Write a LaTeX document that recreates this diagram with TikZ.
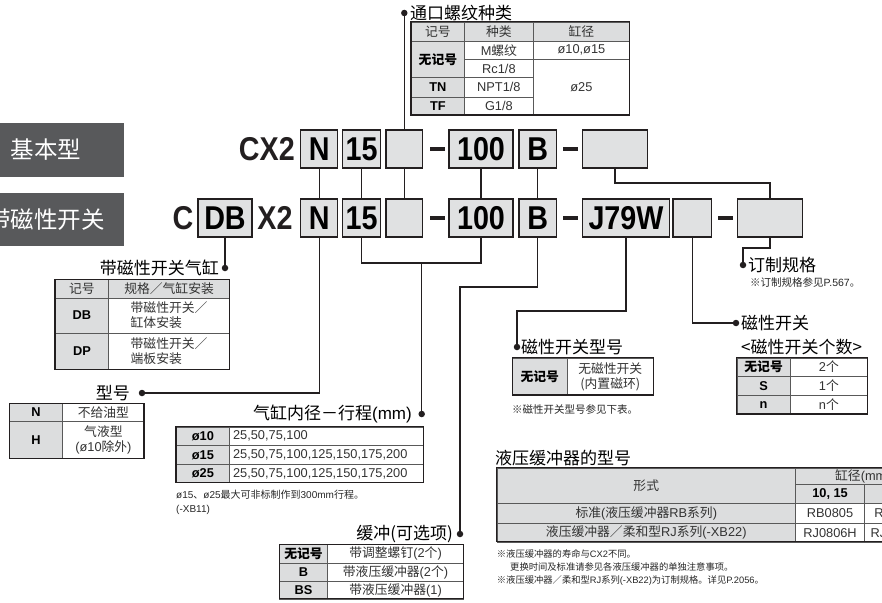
\documentclass[tikz,border=0pt]{standalone}
\usepackage{fontspec}
\setmainfont{Noto Sans CJK SC}
\newfontfamily\lat{Liberation Sans}
\newfontfamily\codefont[FakeStretch=0.87]{Liberation Sans}
\newcommand{\tabfont}{\fontsize{12.8}{15}\selectfont}

\definecolor{linec}{HTML}{231F20}
\definecolor{boxgray}{HTML}{E0E1E2}
\definecolor{cellgray}{HTML}{DCDDDE}
\definecolor{darkg}{HTML}{58595B}

\tikzset{
  conn/.style={draw=linec, line width=1.2pt},
  ldot/.style={circle, fill=linec, inner sep=0pt, minimum size=6.5pt},
  codebox/.style={draw=linec, line width=1.1pt, fill=boxgray, inner sep=0pt,
    minimum height=38pt, font={\codefont\bfseries\fontsize{33}{36}\selectfont}},
  codetext/.style={inner sep=0pt, text=linec, font={\codefont\bfseries\fontsize{33}{36}\selectfont}},
  dashbar/.style={fill=linec, inner sep=0pt, minimum width=15pt, minimum height=3.4pt},
  darkbox/.style={fill=darkg, text=white, inner sep=0pt, minimum width=156pt,
    minimum height=53.4pt, font=\fontsize{23.5}{26}\selectfont},
  lbl/.style={inner sep=0pt, font=\fontsize{17}{19}\selectfont},
  note/.style={inner sep=0pt, anchor=west, text=black!85, font=\fontsize{10}{12}\selectfont},
  hcell/.style={draw=black!65, line width=0.5pt, fill=cellgray, inner sep=0pt,
    anchor=north west, text=black!80, font=\tabfont},
  kcell/.style={hcell, text=black, font=\tabfont\bfseries},
  wcell/.style={draw=black!65, line width=0.5pt, fill=white, inner sep=0pt,
    anchor=north west, text=black!80, font=\tabfont, align=center},
  tabframe/.style={draw=linec, line width=1.1pt},
}

\begin{document}
\begin{tikzpicture}[x=1pt,y=-1pt]
    \useasboundingbox (0,0) rectangle (882,602);
    \clip (0,0) rectangle (882,602);

    % series boxes on the left
    \node[darkbox] (basic) at (46,150) {基本型};
    \node[darkbox] (withsw) at (46,219.2) {带磁性开关};

    % row 1: CX2
    \node[codetext, anchor=east] (cx2) at (295,149) {CX2};
    \node[codebox, minimum width=37pt] (n1) at (319.2,149) {N};
    \node[codebox, minimum width=38pt] (f1) at (361.7,149) {15};
    \node[codebox, minimum width=36.7pt] (e1) at (404.3,149) {};
    \node[dashbar] (d1) at (437.5,149) {};
    \node[codebox, minimum width=64pt] (h1) at (481,149) {100};
    \node[codebox, minimum width=37.7pt] (b1) at (537.8,149) {B};
    \node[dashbar] (d2) at (570,149) {};
    \node[codebox, minimum width=64.6pt] (x1) at (615,149) {};

    % row 2: CDBX2
    \node[codetext] (c2) at (183,218) {C};
    \node[codebox, minimum width=54pt] (db) at (225,218) {DB};
    \node[codetext] (x2t) at (275,218) {X2};
    \node[codebox, minimum width=37pt] (n2) at (319.2,218) {N};
    \node[codebox, minimum width=38pt] (f2) at (361.7,218) {15};
    \node[codebox, minimum width=36.7pt] (e2) at (404.3,218) {};
    \node[dashbar] (d3) at (437.5,218) {};
    \node[codebox, minimum width=64pt] (h2) at (481,218) {100};
    \node[codebox, minimum width=37.7pt] (b2) at (537.8,218) {B};
    \node[dashbar] (d4) at (570,218) {};
    \node[codebox, minimum width=86.6pt] (j79) at (626,218) {J79W};
    \node[codebox, minimum width=38.7pt] (sw) at (692.3,218) {};
    \node[dashbar] (d5) at (725,218) {};
    \node[codebox, minimum width=64.3pt] (x2b) at (770,218) {};

    % dots and labels
    \node[ldot] (dport) at (404.3,13) {};
    \node[lbl, anchor=west] (lport) at (410,13) {通口螺纹种类};
    \node[ldot] (ddb) at (225,268) {};
    \node[lbl, anchor=east] (ldb) at (219,268) {带磁性开关气缸};
    \node[ldot] (dtype) at (142,393) {};
    \node[lbl, anchor=east] (ltype) at (130,393) {型号};
    \node[ldot] (dbore) at (421.7,414) {};
    \node[lbl, anchor=east] (lbore) at (412,414) {气缸内径－行程{\lat(mm)}};
    \node[ldot] (dcush) at (460,534) {};
    \node[lbl, anchor=east] (lcush) at (453,534) {缓冲(可选项)};
    \node[ldot] (dswt) at (517,347) {};
    \node[lbl, anchor=west] (lswt) at (521,347) {磁性开关型号};
    \node[ldot] (dnum) at (736,323) {};
    \node[lbl, anchor=west] (lnum) at (741,323) {磁性开关};
    \node[lbl, anchor=west] (lnum2) at (741,347) {<磁性开关个数>};
    \node[ldot] (dopt) at (743,265) {};
    \node[lbl, anchor=west] (lopt) at (748,265) {订制规格};
    \node[note, font=\fontsize{10.5}{12}\selectfont] (nopt) at (750,282) {※订制规格参见{\lat P.567}。};
    \node[lbl, anchor=west] (lsa) at (495,458) {液压缓冲器的型号};

    % connectors
    \coordinate (k1) at (615,183);
    \coordinate (j1) at (421.7,263);
    \coordinate (kb) at (460,287);
    \coordinate (kj) at (517,311);
    \coordinate (kx) at (743,248);
    \draw[conn] (e1.north) -- (dport);
    \draw[conn] (n1) -- (n2);
    \draw[conn] (f1) -- (f2);
    \draw[conn] (e1) -- (e2);
    \draw[conn] (h1) -- (h2);
    \draw[conn] (b1) -- (b2);
    \draw[conn] (x1.south) |- (k1) -| (x2b.north);
    \draw[conn] (db.south) -- (ddb);
    \draw[conn] (n2.south) |- (dtype);
    \draw[conn] (f2.south) |- (j1) -| (h2.south);
    \draw[conn] (j1) -- (dbore);
    \draw[conn] (b2.south) |- (kb) -- (dcush);
    \draw[conn] (j79.south) |- (kj) -- (dswt);
    \draw[conn] (sw.south) |- (dnum);
    \draw[conn] (x2b.south) |- (kx) -- (dopt);

    % port thread table
    \node[hcell, minimum width=53.3pt, minimum height=19pt] (pt-a) at (411,21.7) {记号};
    \node[hcell, minimum width=68.7pt, minimum height=19pt] (pt-b) at (464.3,21.7) {种类};
    \node[hcell, minimum width=96.3pt, minimum height=19pt] (pt-c) at (533,21.7) {缸径};
    \node[kcell, minimum width=53.3pt, minimum height=36.6pt] (pt-k1) at (411,40.7) {无记号};
    \node[kcell, minimum width=53.3pt, minimum height=19.4pt] (pt-k2) at (411,77.3) {\lat TN};
    \node[kcell, minimum width=53.3pt, minimum height=18.3pt] (pt-k3) at (411,96.7) {\lat TF};
    \node[wcell, minimum width=68.7pt, minimum height=18.6pt] (pt-t1) at (464.3,40.7) {{\lat M}螺纹};
    \node[wcell, minimum width=68.7pt, minimum height=18pt] (pt-t2) at (464.3,59.3) {\lat Rc1/8};
    \node[wcell, minimum width=68.7pt, minimum height=19.4pt] (pt-t3) at (464.3,77.3) {\lat NPT1/8};
    \node[wcell, minimum width=68.7pt, minimum height=18.3pt] (pt-t4) at (464.3,96.7) {\lat G1/8};
    \node[wcell, minimum width=96.3pt, minimum height=18.6pt] (pt-d1) at (533,40.7) {\lat ø10,ø15};
    \node[wcell, minimum width=96.3pt, minimum height=55.7pt] (pt-d2) at (533,59.3) {\lat ø25};
    \draw[tabframe] (411,21.7) rectangle (629.3,115);

    % cylinder with switch table
    \node[hcell, minimum width=53.3pt, minimum height=18.4pt] (mc-a) at (55,279.3) {记号};
    \node[hcell, minimum width=121pt, minimum height=18.4pt] (mc-b) at (108.3,279.3) {规格／气缸安装};
    \node[kcell, minimum width=53.3pt, minimum height=35pt] (mc-k1) at (55,297.7) {\lat DB};
    \node[wcell, minimum width=121pt, minimum height=35pt, align=left] (mc-t1) at (108.3,297.7) {带磁性开关／\\缸体安装};
    \node[kcell, minimum width=53.3pt, minimum height=36.6pt] (mc-k2) at (55,332.7) {\lat DP};
    \node[wcell, minimum width=121pt, minimum height=36.6pt, align=left] (mc-t2) at (108.3,332.7) {带磁性开关／\\端板安装};
    \draw[tabframe] (55,279.3) rectangle (229.3,369.3);

    % type table
    \node[kcell, minimum width=53pt, minimum height=17.7pt] (ty-k1) at (9.3,403.3) {\lat N};
    \node[wcell, minimum width=81.7pt, minimum height=17.7pt] (ty-t1) at (62.3,403.3) {不给油型};
    \node[kcell, minimum width=53pt, minimum height=37.3pt] (ty-k2) at (9.3,421) {\lat H};
    \node[wcell, minimum width=81.7pt, minimum height=37.3pt] (ty-t2) at (62.3,421) {气液型\\{\lat(ø10}除外{\lat)}};
    \draw[tabframe] (9.3,403.3) rectangle (144,458.3);

    % bore and stroke table
    \node[kcell, minimum width=53.3pt, minimum height=18.6pt] (bs-k1) at (176,426.7) {\lat ø10};
    \node[kcell, minimum width=53.3pt, minimum height=19pt] (bs-k2) at (176,445.3) {\lat ø15};
    \node[kcell, minimum width=53.3pt, minimum height=18pt] (bs-k3) at (176,464.3) {\lat ø25};
    \node[wcell, text width=187pt, inner xsep=3.5pt, minimum height=18.6pt, align=left] (bs-t1) at (229.3,426.7) {\lat 25,50,75,100};
    \node[wcell, text width=187pt, inner xsep=3.5pt, minimum height=19pt, align=left] (bs-t2) at (229.3,445.3) {\lat 25,50,75,100,125,150,175,200};
    \node[wcell, text width=187pt, inner xsep=3.5pt, minimum height=18pt, align=left] (bs-t3) at (229.3,464.3) {\lat 25,50,75,100,125,150,175,200};
    \draw[tabframe] (176,426.7) rectangle (423.3,482.3);
    \node[note] (bs-n1) at (176,495) {{\lat ø15}、{\lat ø25}最大可非标制作到{\lat 300mm}行程。};
    \node[note] (bs-n2) at (176,510) {\lat (-XB11)};

    % cushion table
    \node[kcell, minimum width=48pt, minimum height=18.4pt] (cu-k1) at (279.3,544.3) {无记号};
    \node[kcell, minimum width=48pt, minimum height=18pt] (cu-k2) at (279.3,562.7) {\lat B};
    \node[kcell, minimum width=48pt, minimum height=18pt] (cu-k3) at (279.3,580.7) {\lat BS};
    \node[wcell, minimum width=136pt, minimum height=18.4pt] (cu-t1) at (327.3,544.3) {带调整螺钉{\lat(2}个{\lat)}};
    \node[wcell, minimum width=136pt, minimum height=18pt] (cu-t2) at (327.3,562.7) {带液压缓冲器{\lat(2}个{\lat)}};
    \node[wcell, minimum width=136pt, minimum height=18pt] (cu-t3) at (327.3,580.7) {带液压缓冲器{\lat(1)}};
    \draw[tabframe] (279.3,544.3) rectangle (463.3,598.7);

    % switch type table
    \node[kcell, minimum width=54.4pt, minimum height=37.3pt] (sw-k1) at (512.3,357.7) {无记号};
    \node[wcell, minimum width=86.6pt, minimum height=37.3pt] (sw-t1) at (566.7,357.7) {无磁性开关\\(内置磁环)};
    \draw[tabframe] (512.3,357.7) rectangle (653.3,395);
    \node[note, font=\fontsize{10.5}{12}\selectfont] (sw-n1) at (512,409.3) {※磁性开关型号参见下表。};

    % number of switches table
    \node[kcell, minimum width=53.3pt, minimum height=18pt] (sc-k1) at (736.7,357.7) {无记号};
    \node[kcell, minimum width=53.3pt, minimum height=19.3pt] (sc-k2) at (736.7,375.7) {\lat S};
    \node[kcell, minimum width=53.3pt, minimum height=19pt] (sc-k3) at (736.7,395) {\lat n};
    \node[wcell, minimum width=77.3pt, minimum height=18pt] (sc-t1) at (790,357.7) {{\lat 2}个};
    \node[wcell, minimum width=77.3pt, minimum height=19.3pt] (sc-t2) at (790,375.7) {{\lat 1}个};
    \node[wcell, minimum width=77.3pt, minimum height=19pt] (sc-t3) at (790,395) {{\lat n}个};
    \draw[tabframe] (736.7,357.7) rectangle (867.3,414);

    % shock absorber table
    \node[hcell, minimum width=298.6pt, minimum height=35pt] (sa-a) at (496.7,467.7) {形式};
    \node[hcell, minimum width=134.7pt, minimum height=16.6pt] (sa-b) at (795.3,467.7) {缸径{\lat(mm)}};
    \node[kcell, minimum width=69pt, minimum height=18.4pt] (sa-c1) at (795.3,484.3) {\lat 10, 15};
    \node[kcell, minimum width=65.7pt, minimum height=18.4pt] (sa-c2) at (864.3,484.3) {\lat 25};
    \node[hcell, minimum width=298.6pt, minimum height=20.6pt] (sa-r1) at (496.7,502.7) {标准{\lat(}液压缓冲器{\lat RB}系列{\lat)}};
    \node[wcell, minimum width=69pt, minimum height=20.6pt] (sa-r1a) at (795.3,502.7) {\lat RB0805};
    \node[wcell, minimum width=65.7pt, minimum height=20.6pt] (sa-r1b) at (864.3,502.7) {\lat RB1006};
    \node[hcell, minimum width=298.6pt, minimum height=18.4pt] (sa-r2) at (496.7,523.3) {液压缓冲器／柔和型{\lat RJ}系列{\lat(-XB22)}};
    \node[wcell, minimum width=69pt, minimum height=18.4pt] (sa-r2a) at (795.3,523.3) {\lat RJ0806H};
    \node[wcell, minimum width=65.7pt, minimum height=18.4pt] (sa-r2b) at (864.3,523.3) {\lat RJ1007H};
    \draw[tabframe] (496.7,467.7) rectangle (930,541.7);
    \node[note, font=\fontsize{9.3}{11}\selectfont] (sa-n1) at (496.7,554) {※液压缓冲器的寿命与{\lat CX2}不同。};
    \node[note, font=\fontsize{9.3}{11}\selectfont] (sa-n2) at (510,567.3) {更换时间及标准请参见各液压缓冲器的单独注意事项。};
    \node[note, font=\fontsize{9.3}{11}\selectfont] (sa-n3) at (496.7,580.7) {※液压缓冲器／柔和型{\lat RJ}系列{\lat(-XB22)}为订制规格。详见{\lat P.2056}。};
\end{tikzpicture}
\end{document}
